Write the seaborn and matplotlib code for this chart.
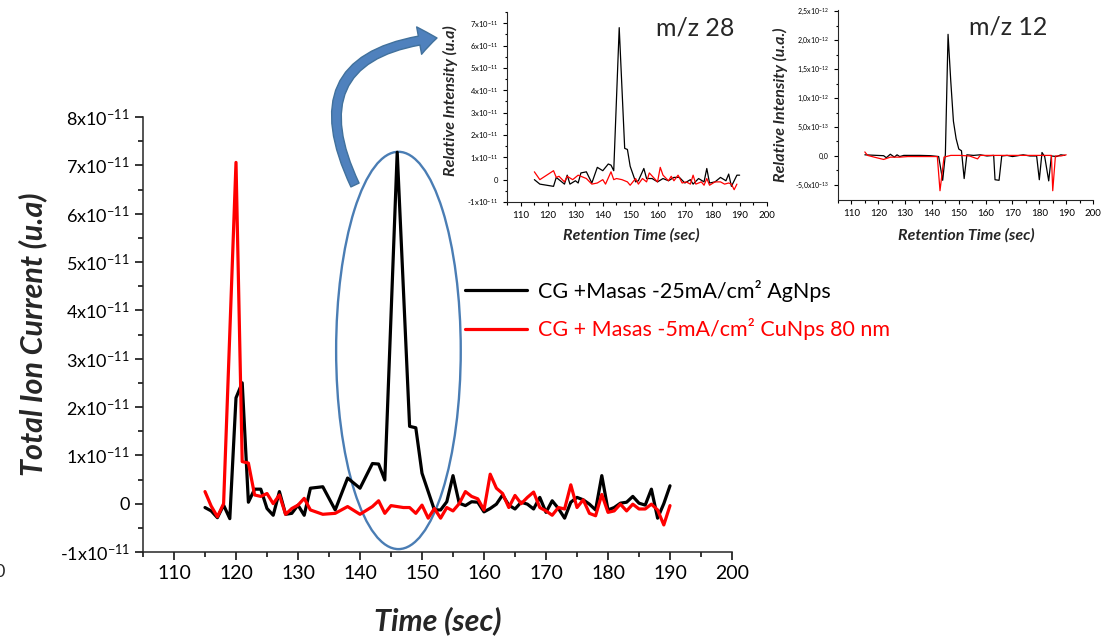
import numpy as np
import pandas as pd
import seaborn as sns
import matplotlib.pyplot as plt
from matplotlib.patches import Ellipse, FancyArrowPatch
from matplotlib.ticker import MultipleLocator, FixedLocator

# === data: main chart (values in units of 1e-11) ===
ag_time = [115, 116, 117, 118, 119, 120, 121, 122, 123, 124, 125, 126, 127, 128, 129, 130,
           131, 132, 134, 136, 138, 140, 142, 143, 144, 146, 148, 149, 150, 152, 153, 154,
           155, 156, 157, 158, 159, 160, 161, 162, 163, 164, 165, 166, 167, 168, 169, 170,
           171, 172, 173, 174, 175, 176, 177, 178, 179, 180, 181, 182, 183, 184, 185, 186,
           187, 188, 189, 190]
ag_tic = [-0.08, -0.15, -0.29, -0.03, -0.31, 2.19, 2.5, 0.03, 0.3, 0.3, -0.1, -0.24, 0.25, -0.22, -0.2, -0.03,
          -0.24, 0.32, 0.35, -0.13, 0.53, 0.32, 0.83, 0.82, 0.49, 7.27, 1.6, 1.57, 0.63, -0.13, -0.13, 0.04,
          0.58, 0.01, -0.04, 0.04, 0.03, -0.17, -0.1, -0.01, 0.18, -0.03, -0.11, 0.03, -0.01, -0.11, 0.13, -0.18,
          0.06, -0.1, -0.3, 0.03, 0.13, 0.08, -0.01, -0.13, 0.58, -0.13, -0.08, 0.01, 0.03, 0.15, 0.01, -0.03,
          0.3, -0.3, 0.0, 0.37]

cu_time = [115, 116, 117, 118, 120, 121, 122, 123, 124, 125, 126, 127, 128, 129, 130, 131,
           132, 134, 136, 138, 140, 142, 143, 144, 145, 146, 147, 148, 149, 150, 151, 152,
           153, 154, 155, 156, 157, 158, 159, 160, 161, 162, 163, 164, 165, 166, 167, 168,
           169, 170, 171, 172, 173, 174, 175, 176, 177, 178, 179, 180, 181, 182, 183, 184,
           185, 186, 187, 188, 189, 190]
cu_tic = [0.25, -0.05, -0.27, 0.0, 7.06, 0.87, 0.84, 0.18, 0.15, 0.21, 0.0, 0.18, -0.22, -0.1, -0.03, 0.11,
          -0.13, -0.22, -0.2, -0.06, -0.22, -0.06, 0.06, -0.2, -0.04, -0.06, -0.08, -0.08, -0.2, -0.03, -0.3, -0.1,
          -0.3, -0.08, -0.15, 0.0, 0.25, 0.15, 0.1, -0.13, 0.61, 0.32, 0.21, -0.08, 0.17, 0.0, 0.13, 0.24,
          -0.08, -0.15, -0.24, -0.08, -0.11, 0.39, -0.08, 0.08, -0.2, -0.25, 0.19, -0.18, -0.15, -0.01, -0.15, -0.01,
          -0.11, -0.11, -0.01, -0.13, -0.44, -0.04]

# === inset m/z 28 (units of 1e-11) ===
mz28_ag_time = [115, 117, 122, 123, 125, 126, 127, 128, 130, 131, 132, 134, 136, 138, 140, 142,
                143, 144, 146, 148, 149, 150, 152, 153, 155, 156, 158, 160, 162, 164, 166, 168,
                170, 172, 173, 175, 177, 178, 179, 181, 183, 185, 186, 187, 189, 190]
mz28_ag = [0.0, -0.2, -0.3, 0.1, -0.1, -0.2, 0.2, -0.2, -0.05, -0.15, 0.3, 0.35, -0.15, 0.55, 0.4, 0.7,
           0.65, 0.4, 6.8, 1.4, 1.35, 0.6, -0.1, -0.05, 0.5, 0.05, 0.05, -0.1, 0.05, -0.05, 0.1, 0.1,
           -0.15, 0.0, -0.2, 0.05, -0.1, 0.5, -0.15, -0.1, 0.1, -0.05, 0.25, -0.3, 0.2, 0.2]
mz28_cu_time = [115, 117, 122, 123, 124, 126, 127, 129, 131, 134, 136, 138, 140, 141, 143, 144,
                145, 147, 149, 150, 152, 153, 154.5, 156, 157, 158.5, 160, 161, 162, 164, 165, 166,
                167.5, 169, 170.5, 172, 173, 174, 176, 177, 178, 179, 181, 183, 184.5, 186, 187, 188,
                189]
mz28_cu = [0.35, 0.0, 0.4, 0.1, 0.15, -0.1, 0.15, 0.0, 0.2, 0.05, -0.2, -0.15, 0.0, -0.2, 0.35, 0.0,
           0.05, 0.0, -0.1, -0.25, 0.05, -0.2, 0.05, -0.1, 0.3, 0.1, -0.1, 0.55, 0.2, -0.05, 0.15, -0.05,
           0.2, -0.15, -0.1, -0.2, 0.2, -0.2, -0.1, -0.25, 0.05, -0.25, -0.1, -0.1, -0.2, -0.15, -0.2, -0.45,
           -0.2]

# === inset m/z 12 (units of 1e-13) ===
mz12_ag_time = [115, 119.5, 122, 123, 124.5, 126, 127, 128, 129.5, 132, 135.5, 139.5, 142.5, 144, 145, 146,
                147, 148, 149, 150, 151, 152, 153, 155.5, 158, 160.5, 163, 163.5, 165, 166, 168, 170,
                174, 176.5, 179, 180, 181, 182, 183.5, 184.5, 186.5, 188, 189.5]
mz12_ag = [0.2, 0.1, 0.05, -0.3, 0.3, -0.2, 0.2, -0.1, 0.1, 0.1, 0.1, 0.05, -0.1, -4.2, 0.3, 21.0,
           13.0, 6.0, 3.0, 1.2, 0.9, -3.9, 0.2, 0.1, 0.2, 0.0, 0.1, -4.1, -4.2, 0.0, 0.1, -0.1,
           0.2, 0.0, 0.0, -4.1, 0.6, -0.1, -4.3, 0.0, -0.1, 0.2, 0.1]
mz12_cu_time = [115, 116, 118.5, 122, 124.5, 128, 131, 138, 142, 143, 144.5, 147, 150.5, 154, 157, 158,
                163, 169, 175, 182.5, 184.5, 185, 186, 188, 190]
mz12_cu = [0.7, 0.1, -0.2, -0.6, -0.2, -0.2, -0.1, -0.1, -0.1, -6.0, -0.2, 0.1, 0.1, 0.0, -0.5, 0.1,
           0.1, 0.1, 0.1, 0.1, 0.1, -6.0, 0.0, 0.0, 0.2]

main_yticks = [-1, 0, 1, 2, 3, 4, 5, 6, 7, 8]
mz28_yticks = [-1, 0, 1, 2, 3, 4, 5, 6, 7]
mz12_yticks = [-5, 0, 5, 10, 15, 20, 25]
mz12_ylabels = ["-5,0x10$^{-13}$", "0,0", "5,0x10$^{-13}$", "1,0x10$^{-12}$", "1,5x10$^{-12}$",
                "2,0x10$^{-12}$", "2,5x10$^{-12}$"]
x_ticks = [110, 120, 130, 140, 150, 160, 170, 180, 190, 200]

label_ag = "CG +Masas -25mA/cm² AgNps"
label_cu = "CG + Masas -5mA/cm² CuNps 80 nm"

sns.set_style("ticks")
plt.rcParams["font.family"] = ["Lato", "DejaVu Sans"]
plt.rcParams["mathtext.default"] = "regular"
plt.rcParams["axes.linewidth"] = 1.1

RED = "#ff0000"
BLUE = "#4a7db4"


def sci_label(n, exp):
    # hyphen in the plain part, exponent as superscript
    if n == 0:
        return "0"
    return "%dx10$^{%d}$" % (n, exp)


def style_axis(ax, major_len, minor_len, width):
    ax.tick_params(which="major", direction="out", length=major_len, width=width, colors="black")
    ax.tick_params(which="minor", direction="out", length=minor_len, width=width, colors="black")
    sns.despine(ax=ax)


fig = plt.figure(figsize=(11.02, 6.39), dpi=100)

# === main chart ===
ax = fig.add_axes([143 / 1102, 1 - 552 / 639, 589 / 1102, 435 / 639])
sns.lineplot(x=ag_time, y=np.array(ag_tic) * 1e-11, ax=ax, color="black", lw=2.3, label=label_ag)
sns.lineplot(x=cu_time, y=np.array(cu_tic) * 1e-11, ax=ax, color=RED, lw=2.3, label=label_cu)
ax.set_xlim(105, 200)
ax.set_ylim(-1e-11, 8e-11)
ax.set_xticks(x_ticks)
ax.xaxis.set_minor_locator(MultipleLocator(5))
ax.set_yticks([v * 1e-11 for v in main_yticks])
ax.set_yticklabels([sci_label(v, -11) for v in main_yticks])
ax.yaxis.set_minor_locator(FixedLocator([(v + 0.5) * 1e-11 for v in main_yticks[:-1]]))
ax.tick_params(axis="y", labelsize=13)
ax.tick_params(axis="x", labelsize=14)
style_axis(ax, 6, 3.5, 1.1)
ax.set_xlabel("Time (sec)", fontsize=22, fontweight="bold", fontstyle="italic")
ax.set_ylabel("Total Ion Current (u.a)", fontsize=22, fontweight="bold", fontstyle="italic")
ax.xaxis.set_label_coords(0.5, -0.126)
ax.yaxis.set_label_coords(-0.163, 0.5)

ell = Ellipse((146.2, 3.17e-11), 20.1, 8.22e-11, fill=False, edgecolor=BLUE, lw=1.7, clip_on=False)
ax.add_patch(ell)

ax.legend(loc="center left", bbox_to_anchor=(465 / 1102, 1 - 310 / 639),
          bbox_transform=fig.transFigure, frameon=False, fontsize=15.5,
          handlelength=2.9, handletextpad=0.5, labelspacing=0.75,
          borderpad=0, borderaxespad=0, labelcolor="linecolor")

# curved arrow towards the inset
arrow = FancyArrowPatch((355 / 1102, 1 - 185 / 639), (437 / 1102, 1 - 38 / 639),
                        transform=fig.transFigure, connectionstyle="arc3,rad=-0.7",
                        arrowstyle="simple,head_length=1.3,head_width=2.0,tail_width=0.65",
                        mutation_scale=10, facecolor="#4f81bd", edgecolor="#41719c", lw=1,
                        shrinkA=0, shrinkB=0)
fig.patches.append(arrow)

# === inset m/z 28 ===
ax1 = fig.add_axes([507 / 1102, 1 - 202 / 639, 260 / 1102, 190 / 639])
sns.lineplot(x=mz28_ag_time, y=np.array(mz28_ag) * 1e-11, ax=ax1, color="black", lw=0.9)
sns.lineplot(x=mz28_cu_time, y=np.array(mz28_cu) * 1e-11, ax=ax1, color=RED, lw=0.9)
ax1.set_xlim(105, 200)
ax1.set_ylim(-1e-11, 7.5e-11)
ax1.set_xticks(x_ticks)
ax1.xaxis.set_minor_locator(MultipleLocator(5))
ax1.set_yticks([v * 1e-11 for v in mz28_yticks])
ax1.set_yticklabels([sci_label(v, -11) for v in mz28_yticks], fontsize=5.5)
ax1.yaxis.set_minor_locator(FixedLocator([(v + 0.5) * 1e-11 for v in mz28_yticks]))
ax1.tick_params(axis="x", labelsize=7)
style_axis(ax1, 3, 1.8, 0.8)
for s in ax1.spines.values():
    s.set_linewidth(0.8)
ax1.set_xlabel("Retention Time (sec)", fontsize=11.5, fontweight="bold", fontstyle="italic")
ax1.set_ylabel("Relative Intensity (u.a)", fontsize=11.5, fontweight="bold", fontstyle="italic")
ax1.xaxis.set_label_coords(0.48, -0.137)
ax1.yaxis.set_label_coords(-0.188, 0.535)
fig.text(695 / 1102, 1 - 28 / 639, "m/z 28", fontsize=18, ha="center", va="center")

# === inset m/z 12 ===
ax2 = fig.add_axes([838 / 1102, 1 - 200 / 639, 255 / 1102, 190 / 639])
sns.lineplot(x=mz12_ag_time, y=np.array(mz12_ag) * 1e-13, ax=ax2, color="black", lw=0.9)
sns.lineplot(x=mz12_cu_time, y=np.array(mz12_cu) * 1e-13, ax=ax2, color=RED, lw=0.9)
ax2.set_xlim(105, 200)
ax2.set_ylim(-7.6e-13, 2.52e-12)
ax2.set_xticks(x_ticks)
ax2.xaxis.set_minor_locator(MultipleLocator(5))
ax2.set_yticks([v * 1e-13 for v in mz12_yticks])
ax2.set_yticklabels(mz12_ylabels, fontsize=5)
ax2.yaxis.set_minor_locator(FixedLocator([(v + 2.5) * 1e-13 for v in mz12_yticks[:-1]]))
ax2.tick_params(axis="x", labelsize=7)
style_axis(ax2, 3, 1.8, 0.8)
for s in ax2.spines.values():
    s.set_linewidth(0.8)
ax2.set_xlabel("Retention Time (sec)", fontsize=11.5, fontweight="bold", fontstyle="italic")
ax2.set_ylabel("Relative Intensity (u.a.)", fontsize=11.5, fontweight="bold", fontstyle="italic")
ax2.xaxis.set_label_coords(0.505, -0.147)
ax2.yaxis.set_label_coords(-0.196, 0.5)
fig.text(1008 / 1102, 1 - 27 / 639, "m/z 12", fontsize=18, ha="center", va="center")

# stray label at the left edge
fig.text(0.0, 1 - 572 / 639, "0", fontsize=13, ha="center", va="center")

fig.savefig("out.png", dpi=100)
